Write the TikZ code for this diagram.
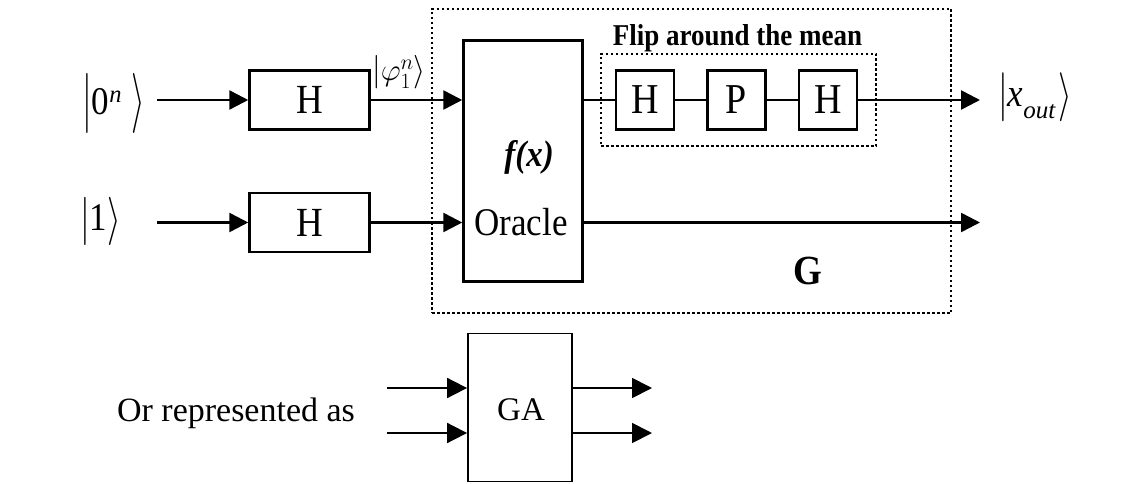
\documentclass[tikz,border=0pt]{standalone}
\usepackage{fix-cm}
\usepackage{fontspec}
\setmainfont{Liberation Serif}
\usepackage{graphicx}
\usetikzlibrary{arrows.meta}
\newcommand{\fsz}[1]{\fontsize{#1}{#1}\selectfont}
\newcommand{\kd}[3]{\raisebox{#2em}{\scalebox{1}[#1]{$#3$}}}
\newcommand{\tall}[1]{\scalebox{1}[1.12]{#1}}
\begin{document}
\begin{tikzpicture}[x=1pt,y=-1pt,
  wire/.style={line width=2.5pt},
  arr/.style={wire,-{Triangle[length=19pt,width=19pt]}},
  wireB/.style={line width=1.8pt},
  arrB/.style={wireB,-{Triangle[length=20pt,width=20pt]}},
  gate/.style={draw,line width=2.5pt,inner sep=0pt,font=\fsz{37}},
  sgate/.style={gate,minimum width=58pt,minimum height=59pt,font=\fsz{38}},
  dotbox/.style={draw,line width=2.5pt,dash pattern=on 2.5pt off 2.5pt,inner sep=0pt},
  ket/.style={anchor=base west,inner sep=0pt,font=\fsz{35}},
  lbl/.style={anchor=base,inner sep=0pt}]
\useasboundingbox (0,0) rectangle (1145,484);
% frames
\node[dotbox,minimum width=519pt,minimum height=304pt] (gbox) at (691.5,161) {};
\node[dotbox,minimum width=275pt,minimum height=92pt] (flipbox) at (738.5,100) {};
% gates
\node[gate,minimum width=120pt,minimum height=59pt] (hA) at (309.5,100) {\tall{H}};
\node[gate,minimum width=120pt,minimum height=59pt] (hB) at (309.5,222.5) {\tall{H}};
\node[gate,minimum width=119pt,minimum height=241pt] (orc) at (523,161) {};
\node[lbl,font=\fsz{33}\bfseries\itshape] (fx) at (529,166) {\tall{f(x)}};
\node[lbl,font=\fsz{35}] (otx) at (521,235) {\tall{Oracle}};
\node[sgate] (h1) at (645,100) {\tall{H}};
\node[sgate] (p) at (736.5,100) {\tall{P}};
\node[sgate] (h2) at (828,100) {\tall{H}};
\node[lbl,font=\fsz{27}\bfseries] (flipt) at (737.5,46) {\tall{Flip around the mean}};
\node[lbl,font=\fsz{37}\bfseries] (gt) at (807.5,284) {\tall{G}};
% kets
\node[ket] (k0) at (82,115) {\kd{1.72}{-0.10}{|}\tall{0}\textsuperscript{\itshape n}\hspace{9pt}\kd{1.72}{-0.10}{\rangle}};
\node[ket] (k1) at (80,230) {\kd{1.38}{-0.09}{|}\tall{1}\kd{1.38}{-0.09}{\rangle}};
\node[ket] (kx) at (998,107) {\kd{1.40}{-0.08}{|}\textit{\tall{x}}\raisebox{-12pt}{\fsz{25}\itshape out}\hspace{3pt}\kd{1.40}{-0.08}{\rangle}};
\node[ket,font=\fsz{31}] (kphi) at (372,81) {\kd{1.08}{0}{|}$\varphi_{1}^{n}$\kd{1.08}{0}{\rangle}};
% wire ends
\coordinate (i0) at (157,100);
\coordinate (i1) at (157,222.5);
\coordinate (o0) at (980,100);
\coordinate (o1) at (980,222.5);
% connectors
\draw[arr] (i0) -- (hA.west);
\draw[arr] (i1) -- (hB.west);
\draw[arr] (hA.east) -- (hA.east -| orc.west);
\draw[arr] (hB.east) -- (hB.east -| orc.west);
\draw[wire] (orc.east |- h1.west) -- (h1.west);
\draw[wire] (h1.east) -- (p.west);
\draw[wire] (p.east) -- (h2.west);
\draw[arr] (h2.east) -- (o0);
\draw[arr] (orc.east |- hB.east) -- (o1);
% bottom representation
\node[lbl,font=\fsz{34}] (ort) at (236,421) {Or represented as};
\node[draw,line width=1.8pt,minimum width=104pt,minimum height=148pt,inner sep=0pt] (ga) at (520,407.5) {};
\node[lbl,font=\fsz{33}] (gat) at (521,420) {GA};
\coordinate (gi1) at (387,388);
\coordinate (gi2) at (387,433);
\coordinate (go1) at (652,388);
\coordinate (go2) at (652,433);
\draw[arrB] (gi1) -- (gi1 -| ga.west);
\draw[arrB] (gi2) -- (gi2 -| ga.west);
\draw[arrB] (go1 -| ga.east) -- (go1);
\draw[arrB] (go2 -| ga.east) -- (go2);
\end{tikzpicture}
\end{document}
